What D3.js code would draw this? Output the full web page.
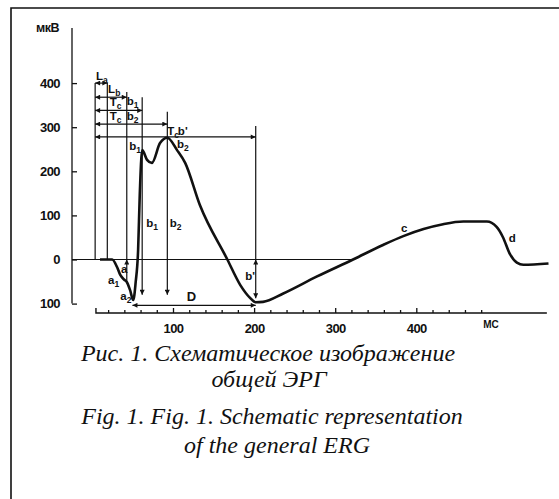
<!DOCTYPE html>
<html lang="ru">
<head>
<meta charset="UTF-8">
<title>Схематическое изображение общей ЭРГ</title>
<script src="https://d3js.org/d3.v7.min.js"></script>
<style>
  body { margin: 0; background: #fff; }
  svg { display: block; }
  .tick text, .lbl { font-family: "Liberation Sans", Arial, sans-serif; font-weight: bold; fill: #111; }
  .tick text { font-size: 13px; letter-spacing: -0.6px; }
  .cap { font-family: "Liberation Serif", "Times New Roman", serif; font-style: italic; font-size: 24px; fill: #111; }
</style>
</head>
<body>
<div id="chart"></div>
<script>
// ERG waveform: time (ms) and amplitude (µV)
const ergTime = [10, 25, 31, 35, 40, 43, 47, 51, 54, 57, 59, 62, 68, 74, 84, 93, 105, 115, 133, 167,
                 183, 195, 202, 211, 236, 277, 322, 359, 384, 409, 433, 458, 487, 499, 507, 515, 524, 532, 563];
const ergAmp  = [0, 0, -17, -35, -46, -51, -69, -92, -51, 22, 146, 248, 226, 219, 264, 276, 248, 219, 124, 0,
                 -58, -87, -97, -96, -77, -39, 0, 33, 53, 69, 80, 86, 86, 74, 50, 14, -7, -12, -9];

// axis ticks
const yTicks = [400, 300, 200, 100, 0, -100];
const yTickLabels = ["400", "300", "200", "100", "0", "100"];
const xMajor = [100, 200, 300, 400];
const xTickLabels = ["100", "200", "300", "400"];
const xMinor = [20, 40, 60, 80, 120, 140, 160, 180, 220, 240, 260, 280, 320, 340, 360, 380, 420, 440, 460, 480];

// latency measurements (ms) from the flash, and the level (µV) of each latency arrow
const flashTime = 4;
const latencyTimes = [19, 43, 62, 93, 202];      // La, Lb, Tc b1, Tc b2, Tc b'
const latencyLevels = [400, 368, 338, 307, 278];
const markerTops = [400, 380, 368, 335, 303];    // top of each vertical marker line
// amplitude arrows: time, from, to (µV), double headed
const ampTime = [43, 62, 93, 202];
const ampFrom = [-51, 0, 0, 0];
const ampTo = [0, -80, -80, -88];
const ampBoth = [false, false, false, true];
// D: duration from a2 trough to b' trough
const durFrom = 50, durTo = 202, durLevel = -104;
const crossTime = 322;   // where the waveform recrosses the baseline

// annotations: text, subscript, time, amplitude
const lblText = ["L", "L", "T", "b", "T", "b", "T", "b'", "b", "b", "b", "b", "a", "a", "a", "D", "b'", "c", "d"];
const lblSub  = ["a", "b", "c", "1", "c", "2", "c", "", "1", "2", "1", "2", "", "1", "2", "", "", "", ""];
const lblTime = [5, 20, 22, 43, 22, 43, 93, 106, 46, 105, 67, 96, 36, 20, 35, 117, 189, 381, 514];
const lblAmp  = [407, 378, 348, 350, 316, 316, 282, 282, 248, 253, 74, 74, -31, -56, -92, -94, -47, 62, 40];

const captions = ["Рис. 1. Схематическое изображение", "общей ЭРГ",
                  "Fig. 1. Fig. 1. Schematic representation", "of the general ERG"];

const W = 559, H = 499;
const svg = d3.select("#chart").append("svg").attr("width", W).attr("height", H);

const x = d3.scaleLinear().domain([0, 500]).range([91.9, 497.4]);
const y = d3.scaleLinear().domain([-100, 400]).range([303.6, 83.1]);

const ink = "#111";

// arrow head
svg.append("defs").append("marker")
   .attr("id", "arr")
   .attr("viewBox", "0 0 10 10")
   .attr("refX", 10).attr("refY", 5)
   .attr("markerUnits", "userSpaceOnUse")
   .attr("markerWidth", 6).attr("markerHeight", 5)
   .attr("orient", "auto-start-reverse")
   .append("path").attr("d", "M0,0L10,5L0,10z").attr("fill", ink);

// frame
svg.append("path")
   .attr("d", `M11,${H}V8H${W}`)
   .attr("fill", "none").attr("stroke", ink).attr("stroke-width", 1.6);

// Y axis
const yAxisX = 72;
svg.append("line")
   .attr("x1", yAxisX).attr("x2", yAxisX)
   .attr("y1", 28).attr("y2", y(-100))
   .attr("stroke", ink).attr("stroke-width", 1.3);

const yAxis = svg.append("g")
   .attr("transform", `translate(${yAxisX},0)`)
   .call(d3.axisLeft(y).tickValues(yTicks).tickSize(-5).tickSizeOuter(0).tickPadding(12)
           .tickFormat((d, i) => yTickLabels[i]));
yAxis.select(".domain").remove();
yAxis.selectAll(".tick line").attr("stroke", ink).attr("stroke-width", 1.3);

svg.append("text").attr("class", "lbl")
   .attr("x", 36).attr("y", 32)
   .style("font-size", "12.5px").style("letter-spacing", "-0.5px")
   .text("мкВ");

// X axis
const xAxisY = 313;
svg.append("path")
   .attr("d", `M${x(5)},${xAxisY - 5}V${xAxisY}H${x(561)}`)
   .attr("fill", "none").attr("stroke", ink).attr("stroke-width", 1.4);

const xMin = svg.append("g")
   .attr("transform", `translate(0,${xAxisY})`)
   .call(d3.axisBottom(x).tickValues(xMinor).tickSize(-3).tickFormat(""));
xMin.select(".domain").remove();

const xMaj = svg.append("g")
   .attr("transform", `translate(0,${xAxisY})`)
   .call(d3.axisBottom(x).tickValues(xMajor).tickSize(-5).tickPadding(11)
           .tickFormat((d, i) => xTickLabels[i]));
xMaj.select(".domain").remove();
svg.selectAll(".tick line").attr("stroke", ink).attr("stroke-width", 1.3);

svg.append("text").attr("class", "lbl")
   .attr("x", 491).attr("y", 328)
   .attr("text-anchor", "middle")
   .style("font-size", "10px")
   .text("МС");

const thin = sel => sel.attr("stroke", ink).attr("stroke-width", 1.2).attr("fill", "none");

// baseline up to where the wave recrosses zero
svg.append("line")
   .attr("x1", yAxisX).attr("x2", x(crossTime))
   .attr("y1", y(0)).attr("y2", y(0))
   .call(thin);

// flash marker
svg.append("line")
   .attr("x1", x(flashTime)).attr("x2", x(flashTime))
   .attr("y1", y(latencyLevels[0])).attr("y2", y(0))
   .call(thin);

// vertical marker lines down to the baseline
svg.selectAll("line.mk")
   .data(latencyTimes)
   .join("line")
   .attr("class", "mk")
   .attr("x1", d => x(d)).attr("x2", d => x(d))
   .attr("y1", (d, i) => y(markerTops[i])).attr("y2", y(0))
   .call(thin);

// latency arrows
svg.selectAll("line.lat")
   .data(latencyTimes)
   .join("line")
   .attr("class", "lat")
   .attr("x1", x(flashTime)).attr("x2", d => x(d))
   .attr("y1", (d, i) => y(latencyLevels[i])).attr("y2", (d, i) => y(latencyLevels[i]))
   .attr("marker-start", "url(#arr)").attr("marker-end", "url(#arr)")
   .call(thin);

// amplitude arrows
svg.selectAll("line.amp")
   .data(ampTime)
   .join("line")
   .attr("class", "amp")
   .attr("x1", d => x(d)).attr("x2", d => x(d))
   .attr("y1", (d, i) => y(ampFrom[i])).attr("y2", (d, i) => y(ampTo[i]))
   .attr("marker-start", (d, i) => ampBoth[i] ? "url(#arr)" : null)
   .attr("marker-end", "url(#arr)")
   .call(thin);

// D arrow
svg.append("line")
   .attr("x1", x(durFrom)).attr("x2", x(durTo))
   .attr("y1", y(durLevel)).attr("y2", y(durLevel))
   .attr("marker-start", "url(#arr)").attr("marker-end", "url(#arr)")
   .call(thin);

// waveform
const line = d3.line()
   .x(d => x(d[0]))
   .y(d => y(d[1]))
   .curve(d3.curveMonotoneX);

svg.append("path")
   .datum(ergTime.map((t, i) => [t, ergAmp[i]]))
   .attr("d", line)
   .attr("fill", "none")
   .attr("stroke", ink)
   .attr("stroke-width", 2.6)
   .attr("stroke-linejoin", "round");

// annotations
const lbl = svg.selectAll("text.ann")
   .data(lblText)
   .join("text")
   .attr("class", "lbl ann")
   .attr("x", (d, i) => x(lblTime[i]))
   .attr("y", (d, i) => y(lblAmp[i]))
   .style("font-size", d => d === "D" ? "13px" : "11.5px");
lbl.append("tspan").text(d => d);
lbl.append("tspan")
   .attr("dy", 3)
   .style("font-size", "8.5px")
   .text((d, i) => lblSub[i]);

// caption
const capX = [268, 269, 272, 277];
const capY = [360.5, 387, 424, 453];
svg.selectAll("text.cap")
   .data(captions)
   .join("text")
   .attr("class", "cap")
   .attr("x", (d, i) => capX[i])
   .attr("y", (d, i) => capY[i])
   .attr("text-anchor", "middle")
   .text(d => d);
</script>
</body>
</html>
